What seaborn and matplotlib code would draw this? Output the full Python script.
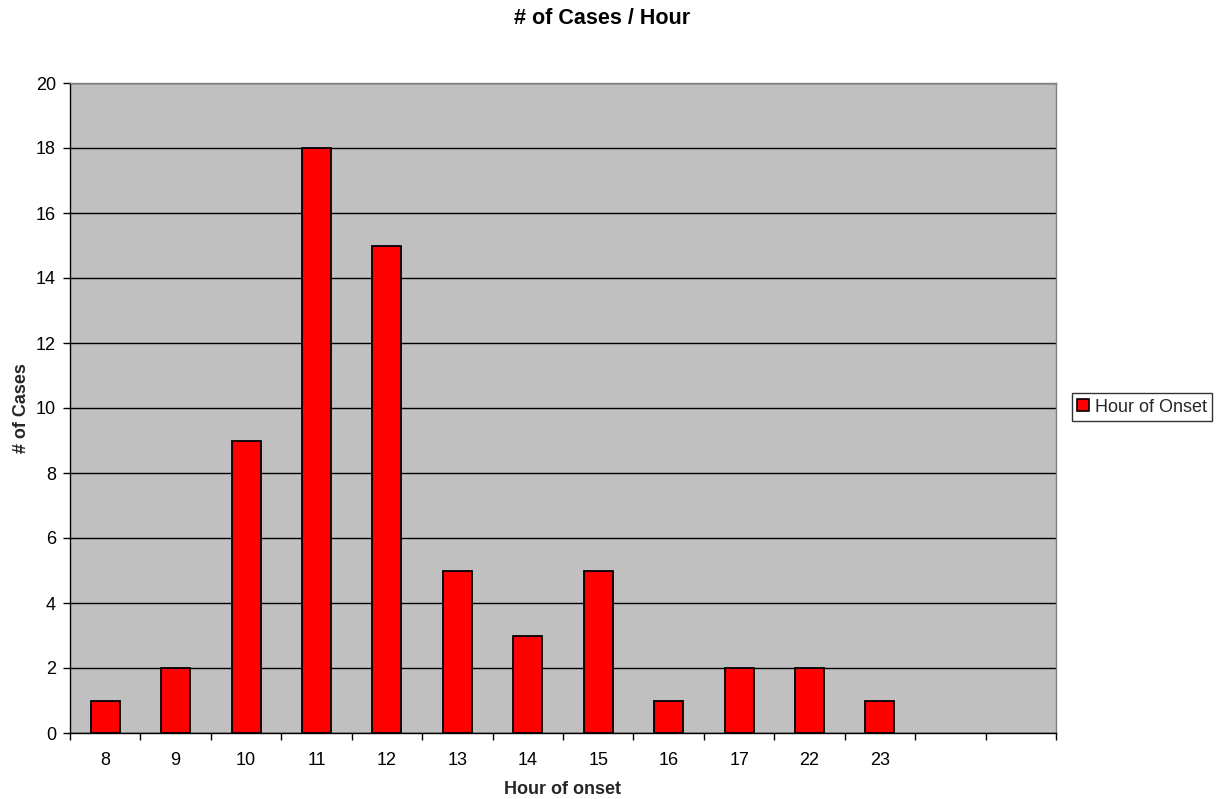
import matplotlib
matplotlib.use("Agg")
import matplotlib.pyplot as plt
import seaborn as sns
import pandas as pd
import numpy as np
from matplotlib.patches import Patch

hours = ["8", "9", "10", "11", "12", "13", "14", "15", "16", "17", "22", "23"]
cases = [1, 2, 9, 18, 15, 5, 3, 5, 1, 2, 2, 1]
order = hours + [" ", "  "]
series_name = "Hour of Onset"

sns.set_theme(style="white")
plt.rcParams['font.family'] = ['Liberation Sans', 'DejaVu Sans']

df = pd.DataFrame({"hour": hours, "cases": cases})

fig = plt.figure(figsize=(12.17, 7.99), dpi=100)
ax = fig.add_axes([70/1217, 1-733/799, (1056-70)/1217, (733-83)/799])
ax.set_facecolor("#C0C0C0")

sns.barplot(data=df, x="hour", y="cases", order=order, color="#FF0000",
            width=0.41, edgecolor="black", linewidth=1.3, saturation=1, ax=ax, zorder=3)

ax.set_xlim(-0.5, len(order) - 0.5)
ax.set_ylim(0, 20)
ax.set_yticks(np.arange(0, 21, 2))
ax.yaxis.grid(True, color="black", linewidth=1)
ax.set_axisbelow(True)
for b in ax.patches:
    b.set_zorder(3)

ax.set_xticks(range(len(order)))
ax.set_xticklabels(order)
ax.set_xticks(np.arange(-0.5, len(order), 1), minor=True)
ax.tick_params(axis="x", which="major", length=0, pad=14, labelsize=13, colors="black")
ax.tick_params(axis="x", which="minor", length=5, width=1, direction="out", color="black", bottom=True)
ax.tick_params(axis="y", length=5, width=1, direction="out", left=True, labelsize=13, colors="black", pad=5)

for s in ["left", "bottom"]:
    ax.spines[s].set_color("black")
    ax.spines[s].set_linewidth(1)
for s in ["top", "right"]:
    ax.spines[s].set_color("#808080")
    ax.spines[s].set_linewidth(1)

ax.set_xlabel("Hour of onset", fontsize=13, fontweight="bold", labelpad=8)
ax.set_ylabel("# of Cases", fontsize=13, fontweight="bold", labelpad=4)
fig.text(602/1217, 1-18/799, "# of Cases / Hour", ha="center", va="center",
         fontsize=15.5, fontweight="bold", color="black")

handles = [Patch(facecolor="#FF0000", edgecolor="black", linewidth=1.2, label=series_name)]
leg = fig.legend(handles=handles, loc="center left", bbox_to_anchor=(1072/1217, 1-407/799),
                 frameon=True, fancybox=False, fontsize=13, handlelength=0.65, handleheight=0.65,
                 handletextpad=0.3, borderpad=0.3, borderaxespad=0)
leg.get_frame().set_edgecolor("black")
leg.get_frame().set_linewidth(1)

fig.savefig("out.png", dpi=100)
